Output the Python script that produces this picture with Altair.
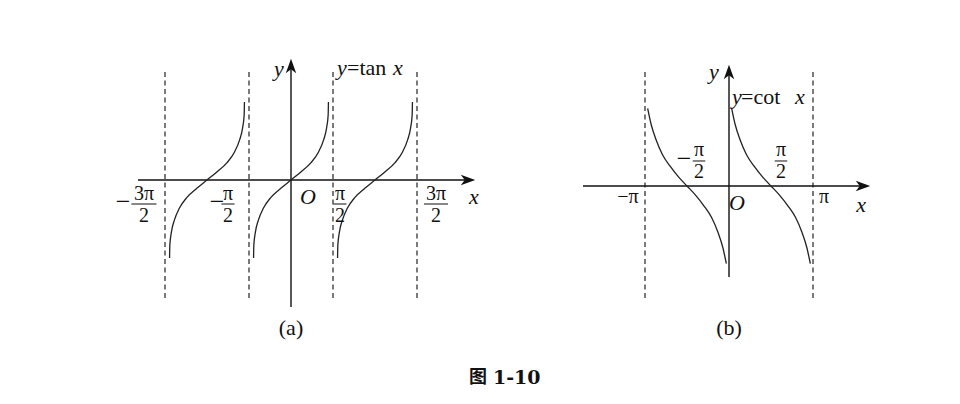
import math
import altair as alt
import pandas as pd

PI = math.pi

# ---------------- data ----------------
# one branch of the drawn tan curve, relative to its centre (radians / y units)
tan_centers = [-PI, 0.0, PI]
tan_dx = [-1.40, -1.39, -1.33, -1.22, -1.03, -0.75, -0.37, 0.0, 0.37, 0.75, 1.03, 1.22, 1.33, 1.39, 1.40]
tan_dy = [-2.92, -2.43, -1.94, -1.50, -1.05, -0.65, -0.30, 0.0, 0.30, 0.65, 1.05, 1.50, 1.94, 2.43, 2.92]
tan_asymptotes = [-1.5 * PI, -0.5 * PI, 0.5 * PI, 1.5 * PI]

# one branch of the drawn cot curve, relative to its centre
cot_centers = [-PI / 2, PI / 2]
cot_dx = [-1.47, -1.34, -1.15, -0.92, -0.625, -0.31, 0.0, 0.31, 0.625, 0.92, 1.15, 1.34, 1.47]
cot_dy = [2.90, 2.30, 1.71, 1.18, 0.73, 0.33, 0.0, -0.33, -0.73, -1.18, -1.71, -2.30, -2.90]
cot_asymptotes = [-PI, PI]

# tick labels (fractions): numerator, centre x
tan_frac_num = ["3π", "π", "π", "3π"]
tan_frac_x = [-5.50, -2.356, 1.833, 5.423]
tan_frac_half = [0.47, 0.245, 0.245, 0.45]
tan_frac_minus_x = [-6.283, -2.768]
cot_frac_num = ["π", "π"]
cot_frac_x = [-1.122, 1.945]
cot_frac_minus_x = [-1.683]

# ---------------- layout ----------------
W, H = 944, 388
K = 84 / PI                      # px per radian
A0 = (291 - 8, 180 - 8)          # panel (a) origin inside plot area
B0 = (729 - 8, 186 - 8)          # panel (b) origin inside plot area
SERIF = "Liberation Serif"
INK = "#111111"


def xsc(o):
    return alt.Scale(domain=[-o[0] / K, (W - o[0]) / K], range=[0, W], nice=False, zero=False)


def ysc(o):
    return alt.Scale(domain=[-(H - o[1]) / K, o[1] / K], range=[H, 0], nice=False, zero=False)


def X(o, f="x"):
    return alt.X(f"{f}:Q", scale=xsc(o), axis=None)


def Y(o, f="y"):
    return alt.Y(f"{f}:Q", scale=ysc(o), axis=None)


layers = []


def rules(o, rows, **kw):
    df = pd.DataFrame(rows)
    enc = dict(x=X(o), y=Y(o))
    if "x2" in df:
        enc["x2"] = alt.X2("x2:Q")
    if "y2" in df:
        enc["y2"] = alt.Y2("y2:Q")
    layers.append(alt.Chart(df).mark_rule(**kw).encode(**enc))


def texts(o, rows, **kw):
    df = pd.DataFrame(rows)
    props = dict(font=SERIF, fontSize=22, color=INK, baseline="middle", align="center")
    props.update(kw)
    layers.append(alt.Chart(df).mark_text(**props).encode(x=X(o), y=Y(o), text="t:N"))


RIGHT = "M1,0L-1,-0.72L-0.45,0L-1,0.72Z"
UP = "M0,-1L-0.72,1L0,0.45L0.72,1Z"


def arrow(o, x, y, shape):
    df = pd.DataFrame({"x": [x], "y": [y]})
    layers.append(
        alt.Chart(df)
        .mark_point(shape=shape, size=210, filled=True, color="#111", opacity=1, strokeWidth=0)
        .encode(x=X(o), y=Y(o))
    )


def curves(o, centers, dx, dy, name):
    rows = []
    for i, c in enumerate(centers):
        for a, b in zip(dx, dy):
            rows.append({"branch": f"{name}{i}", "x": c + a, "y": b})
    df = pd.DataFrame(rows)
    layers.append(
        alt.Chart(df)
        .mark_line(color="#222", strokeWidth=1.3, interpolate="monotone")
        .encode(x=X(o), y=Y(o), detail="branch:N", order="x:Q")
    )


DASH = dict(strokeDash=[5, 3.5], color="#333", strokeWidth=1.3)
AX = dict(color=INK, strokeWidth=1.4)
FR = 20  # fraction font size
MN = 26  # minus sign font size

# ---------------- panel (a): y = tan x ----------------
rules(A0, [{"x": a, "y": 4.039, "y2": -4.413} for a in tan_asymptotes], **DASH)
rules(A0, [{"x": -5.722, "x2": 6.62, "y": 0.0}], **AX)
rules(A0, [{"x": 0.0, "y": -4.75, "y2": 4.26}], **AX)
arrow(A0, 6.62, 0.0, RIGHT)
arrow(A0, 0.0, 4.26, UP)
curves(A0, tan_centers, tan_dx, tan_dy, "tan")

texts(A0, [{"t": "y", "x": -0.449, "y": 4.151},
           {"t": "O", "x": 0.636, "y": -0.636},
           {"t": "x", "x": 6.844, "y": -0.636}], fontStyle="italic")
texts(A0, [{"t": "y", "x": 1.720, "y": 4.189},
           {"t": "x", "x": 3.815, "y": 4.189}], fontStyle="italic", align="left")
texts(A0, [{"t": "=tan", "x": 2.094, "y": 4.189}], align="left")
texts(A0, [{"t": t, "x": x, "y": -0.505} for t, x in zip(tan_frac_num, tan_frac_x)], fontSize=FR)
texts(A0, [{"t": "2", "x": x, "y": -1.365} for x in tan_frac_x], fontSize=FR)
texts(A0, [{"t": "−", "x": m, "y": -0.84} for m in tan_frac_minus_x], fontSize=MN)
rules(A0, [{"x": x - h, "x2": x + h, "y": -0.898} for x, h in zip(tan_frac_x, tan_frac_half)],
      color=INK, strokeWidth=1)
texts(A0, [{"t": "(a)", "x": 0.0, "y": -5.535}])

# caption
texts(A0, [{"t": "图", "x": 6.994, "y": -7.405}], font="Noto Sans CJK SC", fontWeight="bold", fontSize=18)
texts(A0, [{"t": "1-10", "x": 7.555, "y": -7.405}], font="DejaVu Serif", fontWeight="bold",
      fontSize=19, align="left")

# ---------------- panel (b): y = cot x ----------------
rules(B0, [{"x": a, "y": 4.264, "y2": -4.189} for a in cot_asymptotes], **DASH)
rules(B0, [{"x": -5.460, "x2": 5.01, "y": 0.0}], **AX)
rules(B0, [{"x": 0.0, "y": -3.403, "y2": 4.264}], **AX)
arrow(B0, 5.01, 0.0, RIGHT)
arrow(B0, 0.0, 4.264, UP)
curves(B0, cot_centers, cot_dx, cot_dy, "cot")

texts(B0, [{"t": "y", "x": -0.561, "y": 4.264},
           {"t": "O", "x": 0.299, "y": -0.636},
           {"t": "x", "x": 4.937, "y": -0.711}], fontStyle="italic")
texts(B0, [{"t": "y", "x": 0.112, "y": 3.329},
           {"t": "x", "x": 2.468, "y": 3.329}], fontStyle="italic", align="left")
texts(B0, [{"t": "=cot", "x": 0.449, "y": 3.329}], align="left")
texts(B0, [{"t": "−π", "x": -3.777, "y": -0.411},
           {"t": "π", "x": 3.553, "y": -0.411}], fontSize=FR)
texts(B0, [{"t": t, "x": x, "y": 1.33} for t, x in zip(cot_frac_num, cot_frac_x)], fontSize=FR)
texts(B0, [{"t": "2", "x": x, "y": 0.525} for x in cot_frac_x], fontSize=FR)
texts(B0, [{"t": "−", "x": m, "y": 0.995} for m in cot_frac_minus_x], fontSize=MN)
rules(B0, [{"x": x - 0.235, "x2": x + 0.235, "y": 0.935} for x in cot_frac_x], color=INK, strokeWidth=1)
texts(B0, [{"t": "(b)", "x": 0.0, "y": -5.311}])

chart = (
    alt.layer(*layers)
    .resolve_scale(x="independent", y="independent")
    .properties(width=W, height=H, padding=0, background="white",
                autosize=alt.AutoSizeParams(type="none"))
    .configure_view(stroke=None)
)

chart.save("out.html", embed_options={"renderer": "svg", "actions": False})
